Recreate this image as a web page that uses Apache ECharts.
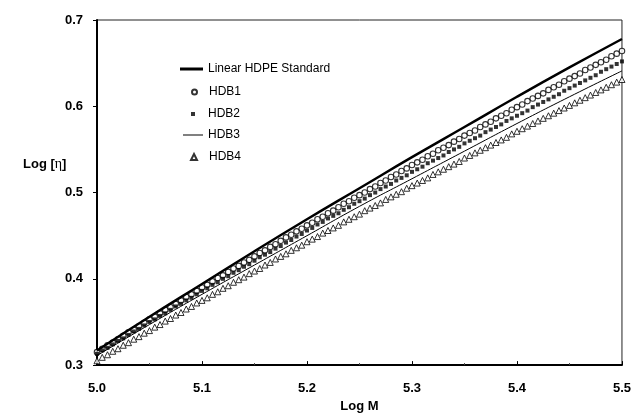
<!DOCTYPE html>
<html>
<head>
<meta charset="utf-8">
<script src="https://cdn.jsdelivr.net/npm/echarts@6/dist/echarts.min.js"></script>
<style>
  html, body { margin: 0; padding: 0; background: #fff; }
  #chart { width: 634px; height: 418px; }
</style>
</head>
<body>
<div id="chart"></div>
<script>
// Log M positions for the sampled branched-polymer curves (step 0.005)
const logM = [
  5.000, 5.005, 5.010, 5.015, 5.020, 5.025, 5.030, 5.035, 5.040, 5.045,
  5.050, 5.055, 5.060, 5.065, 5.070, 5.075, 5.080, 5.085, 5.090, 5.095,
  5.100, 5.105, 5.110, 5.115, 5.120, 5.125, 5.130, 5.135, 5.140, 5.145,
  5.150, 5.155, 5.160, 5.165, 5.170, 5.175, 5.180, 5.185, 5.190, 5.195,
  5.200, 5.205, 5.210, 5.215, 5.220, 5.225, 5.230, 5.235, 5.240, 5.245,
  5.250, 5.255, 5.260, 5.265, 5.270, 5.275, 5.280, 5.285, 5.290, 5.295,
  5.300, 5.305, 5.310, 5.315, 5.320, 5.325, 5.330, 5.335, 5.340, 5.345,
  5.350, 5.355, 5.360, 5.365, 5.370, 5.375, 5.380, 5.385, 5.390, 5.395,
  5.400, 5.405, 5.410, 5.415, 5.420, 5.425, 5.430, 5.435, 5.440, 5.445,
  5.450, 5.455, 5.460, 5.465, 5.470, 5.475, 5.480, 5.485, 5.490, 5.495,
  5.500
];

// Log M positions for the continuous curves
const logMLine = [5.00, 5.05, 5.10, 5.15, 5.20, 5.25, 5.30, 5.35, 5.40, 5.45, 5.50];

// Linear HDPE standard, log [eta]
const standard = [0.317, 0.356, 0.394, 0.432, 0.469, 0.505, 0.541, 0.576, 0.611, 0.645, 0.678];

// HDB3, log [eta]
const hdb3 = [0.311, 0.347, 0.382, 0.416, 0.450, 0.484, 0.516, 0.548, 0.580, 0.611, 0.641];

// HDB1, log [eta]
const hdb1 = [
  0.315, 0.319, 0.323, 0.326, 0.330, 0.334, 0.338, 0.341, 0.345, 0.349,
  0.353, 0.356, 0.360, 0.364, 0.367, 0.371, 0.375, 0.379, 0.382, 0.386,
  0.390, 0.393, 0.397, 0.401, 0.404, 0.408, 0.412, 0.415, 0.419, 0.422,
  0.426, 0.430, 0.433, 0.437, 0.440, 0.444, 0.448, 0.451, 0.455, 0.458,
  0.462, 0.465, 0.469, 0.472, 0.476, 0.479, 0.483, 0.487, 0.490, 0.494,
  0.497, 0.500, 0.504, 0.507, 0.511, 0.514, 0.518, 0.521, 0.525, 0.528,
  0.532, 0.535, 0.538, 0.542, 0.545, 0.549, 0.552, 0.555, 0.559, 0.562,
  0.566, 0.569, 0.572, 0.576, 0.579, 0.582, 0.586, 0.589, 0.592, 0.596,
  0.599, 0.602, 0.606, 0.609, 0.612, 0.615, 0.619, 0.622, 0.625, 0.629,
  0.632, 0.635, 0.638, 0.642, 0.645, 0.648, 0.651, 0.654, 0.658, 0.661,
  0.664
];

// HDB2, log [eta]
const hdb2 = [
  0.313, 0.317, 0.320, 0.324, 0.328, 0.331, 0.335, 0.339, 0.342, 0.346,
  0.350, 0.353, 0.357, 0.360, 0.364, 0.368, 0.371, 0.375, 0.378, 0.382,
  0.386, 0.389, 0.393, 0.396, 0.400, 0.403, 0.407, 0.410, 0.414, 0.417,
  0.421, 0.425, 0.428, 0.431, 0.435, 0.438, 0.442, 0.445, 0.449, 0.452,
  0.456, 0.459, 0.463, 0.466, 0.470, 0.473, 0.476, 0.480, 0.483, 0.487,
  0.490, 0.493, 0.497, 0.500, 0.504, 0.507, 0.510, 0.514, 0.517, 0.520,
  0.524, 0.527, 0.530, 0.534, 0.537, 0.540, 0.543, 0.547, 0.550, 0.553,
  0.557, 0.560, 0.563, 0.566, 0.570, 0.573, 0.576, 0.579, 0.583, 0.586,
  0.589, 0.592, 0.595, 0.599, 0.602, 0.605, 0.608, 0.611, 0.614, 0.618,
  0.621, 0.624, 0.627, 0.630, 0.633, 0.636, 0.640, 0.643, 0.646, 0.649,
  0.652
];

// HDB4, log [eta]
const hdb4 = [
  0.305, 0.309, 0.312, 0.316, 0.319, 0.323, 0.326, 0.330, 0.333, 0.337,
  0.340, 0.344, 0.347, 0.351, 0.354, 0.358, 0.361, 0.365, 0.368, 0.372,
  0.375, 0.378, 0.382, 0.385, 0.389, 0.392, 0.396, 0.399, 0.402, 0.406,
  0.409, 0.412, 0.416, 0.419, 0.423, 0.426, 0.429, 0.433, 0.436, 0.439,
  0.443, 0.446, 0.449, 0.453, 0.456, 0.459, 0.462, 0.466, 0.469, 0.472,
  0.475, 0.479, 0.482, 0.485, 0.488, 0.492, 0.495, 0.498, 0.501, 0.505,
  0.508, 0.511, 0.514, 0.517, 0.521, 0.524, 0.527, 0.530, 0.533, 0.536,
  0.540, 0.543, 0.546, 0.549, 0.552, 0.555, 0.558, 0.561, 0.564, 0.568,
  0.571, 0.574, 0.577, 0.580, 0.583, 0.586, 0.589, 0.592, 0.595, 0.598,
  0.601, 0.604, 0.607, 0.610, 0.613, 0.616, 0.619, 0.622, 0.625, 0.628,
  0.631
];

const seriesNames = ['Linear HDPE Standard', 'HDB1', 'HDB2', 'HDB3', 'HDB4'];

const pair = (xs, ys) => xs.map((x, i) => [x, ys[i]]);

const FONT = 'Liberation Sans, Arial, Helvetica, sans-serif';
const INK = '#000';

const chart = echarts.init(document.getElementById('chart'), null, { renderer: 'canvas' });

// One legend block per entry so each key can have its own icon size;
// the left text padding keeps every label starting at the same x.
function legendRow(name, icon, left, top, w, h, textPad) {
  return {
    data: [icon ? { name: name, icon: icon } : name],
    orient: 'vertical',
    left: left,
    top: top,
    padding: 0,
    itemWidth: w,
    itemHeight: h,
    selectedMode: false,
    textStyle: {
      fontFamily: FONT, fontSize: 12, color: INK,
      padding: [0, 0, 0, textPad]
    }
  };
}

chart.setOption({
  animation: false,
  backgroundColor: '#fff',
  grid: {
    left: 97, right: 12, top: 20, bottom: 49,
    show: true, borderColor: '#222', borderWidth: 1, backgroundColor: 'transparent'
  },
  legend: [
    legendRow(seriesNames[0], 'rect', 180, 63, 23, 3, 0),
    legendRow(seriesNames[1], null, 191, 86, 5, 5, 7),
    legendRow(seriesNames[2], 'rect', 191, 108, 4, 4, 8),
    legendRow(seriesNames[3], 'rect', 183, 129, 20, 1, 0),
    legendRow(seriesNames[4], null, 190, 151, 6, 6, 7)
  ],
  xAxis: {
    type: 'value',
    min: 5.0, max: 5.5, interval: 0.1,
    name: 'Log M',
    nameLocation: 'middle',
    nameGap: 34,
    nameTextStyle: { fontFamily: FONT, fontSize: 13, fontWeight: 'bold', color: INK },
    axisLine: { show: true, onZero: false, lineStyle: { color: INK, width: 2 } },
    axisTick: { show: true, inside: true, length: 4, lineStyle: { color: INK, width: 1 } },
    minorTick: { show: true, splitNumber: 2, length: 2, lineStyle: { color: '#444', width: 1 } },
    axisLabel: {
      margin: 17, fontFamily: FONT, fontSize: 13, fontWeight: 'bold', color: INK,
      formatter: v => v.toFixed(1)
    },
    splitLine: { show: false }
  },
  yAxis: {
    type: 'value',
    min: 0.3, max: 0.7, interval: 0.1,
    axisLine: { show: true, onZero: false, lineStyle: { color: INK, width: 2 } },
    axisTick: { show: true, inside: false, length: 4, lineStyle: { color: INK, width: 1 } },
    axisLabel: {
      margin: 14, fontFamily: FONT, fontSize: 13, fontWeight: 'bold', color: INK,
      formatter: v => v.toFixed(1)
    },
    splitLine: { show: false }
  },
  graphic: [{
    type: 'text',
    left: 23,
    top: 157,
    style: {
      text: '{a|Log [}{b|η}{a|]}',
      rich: {
        a: { fontFamily: FONT, fontSize: 13, fontWeight: 'bold', fill: INK },
        b: { fontFamily: 'Liberation Serif, Times New Roman, serif', fontSize: 14, fill: INK }
      }
    }
  }],
  series: [
    {
      name: seriesNames[0],
      type: 'line',
      data: pair(logMLine, standard),
      smooth: true,
      symbol: 'none',
      lineStyle: { color: INK, width: 2.5 },
      itemStyle: { color: INK },
      z: 5
    },
    {
      name: seriesNames[1],
      type: 'scatter',
      data: pair(logM, hdb1),
      symbol: 'circle',
      symbolSize: 5.5,
      itemStyle: { color: '#fff', borderColor: INK, borderWidth: 1.1 },
      z: 3
    },
    {
      name: seriesNames[2],
      type: 'scatter',
      data: pair(logM, hdb2),
      symbol: 'rect',
      symbolSize: 4,
      itemStyle: { color: INK },
      z: 4
    },
    {
      name: seriesNames[3],
      type: 'line',
      data: pair(logMLine, hdb3),
      smooth: true,
      symbol: 'none',
      lineStyle: { color: INK, width: 1 },
      itemStyle: { color: INK },
      z: 5
    },
    {
      name: seriesNames[4],
      type: 'scatter',
      data: pair(logM, hdb4),
      symbol: 'triangle',
      symbolSize: 6,
      itemStyle: { color: '#fff', borderColor: INK, borderWidth: 1 },
      z: 3
    }
  ]
});
</script>
</body>
</html>
